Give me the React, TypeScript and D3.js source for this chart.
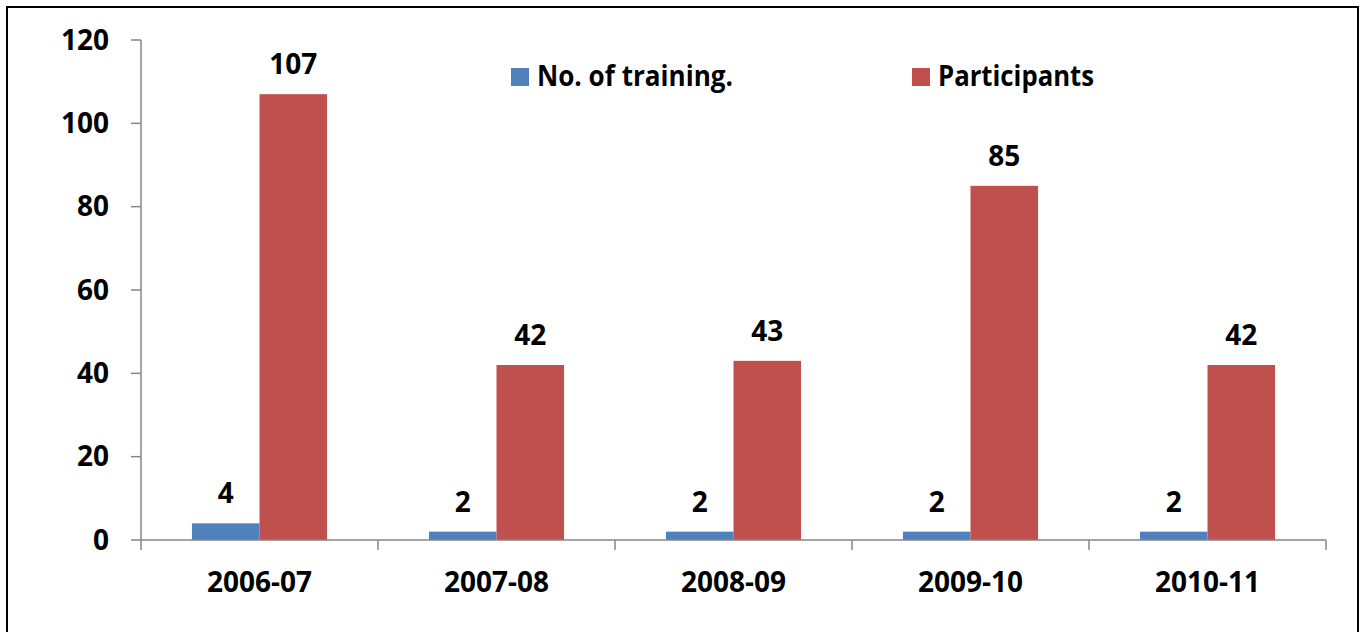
import * as d3 from "d3";

const years = ["2006-07", "2007-08", "2008-09", "2009-10", "2010-11"];
const trainings = [4, 2, 2, 2, 2];
const participants = [107, 42, 43, 85, 42];
const yTicks = [0, 20, 40, 60, 80, 100, 120];
const seriesNames = ["No. of training.", "Participants"];
const colors = ["#4F81BD", "#C0504D"];

export default function App() {
  const width = 1366, height = 632;
  const left = 141, right = 1326, top = 40, bottom = 540;
  const font = "'Open Sans', 'Noto Sans', sans-serif";
  const axisColor = "#868686";

  const x = d3.scaleBand<string>().domain(years).range([left, right]).paddingInner(0).paddingOuter(0);
  const y = d3.scaleLinear().domain([0, 120]).range([bottom, top]);
  const barW = x.bandwidth() * 0.285;
  const offset = (x.bandwidth() - 2 * barW) / 2;
  const series = [trainings, participants];
  const bounds = [...years.map((d) => x(d)!), right];

  return (
    <svg width={width} height={height} style={{ position: "absolute", left: 0, top: 0, background: "#fff" }} fontFamily={font}>
      <rect x={7} y={7} width={1351} height={660} fill="#fff" stroke="#000" strokeWidth={2} />

      {series.map((vals, s) =>
        vals.map((v, i) => {
          const bx = x(years[i])! + offset + s * barW;
          return (
            <g key={`${s}-${i}`}>
              <rect x={bx} y={y(v)} width={barW} height={bottom - y(v)} fill={colors[s]} />
              <text x={bx + barW / 2} y={y(v) - 20} textAnchor="middle" fontSize={28} fontWeight={700} fill="#000">
                {v}
              </text>
            </g>
          );
        })
      )}

      {/* y axis */}
      <line x1={left} x2={left} y1={top} y2={bottom} stroke={axisColor} strokeWidth={1.5} />
      {yTicks.map((t) => (
        <g key={t}>
          <line x1={left - 10} x2={left} y1={y(t)} y2={y(t)} stroke={axisColor} strokeWidth={1.5} />
          <text x={109} y={y(t) + 9.5} textAnchor="end" fontSize={28} fontWeight={700} fill="#000">
            {t}
          </text>
        </g>
      ))}

      {/* x axis */}
      <line x1={left} x2={right} y1={bottom} y2={bottom} stroke={axisColor} strokeWidth={1.5} />
      {bounds.map((b, i) => (
        <line key={i} x1={b} x2={b} y1={bottom} y2={bottom + 10} stroke={axisColor} strokeWidth={1.5} />
      ))}
      {years.map((yr) => (
        <text key={yr} x={x(yr)! + x.bandwidth() / 2} y={592} textAnchor="middle" fontSize={28} fontWeight={700} fill="#000">
          {yr}
        </text>
      ))}

      {/* legend */}
      {seriesNames.map((n, i) => {
        const lx = [511, 912][i];
        const tl = [196, 156][i];
        return (
          <g key={n}>
            <rect x={lx} y={68} width={18} height={18} fill={colors[i]} />
            <text x={lx + 26} y={86} fontSize={28} fontWeight={700} fill="#000" textLength={tl} lengthAdjust="spacingAndGlyphs">
              {n}
            </text>
          </g>
        );
      })}
    </svg>
  );
}
